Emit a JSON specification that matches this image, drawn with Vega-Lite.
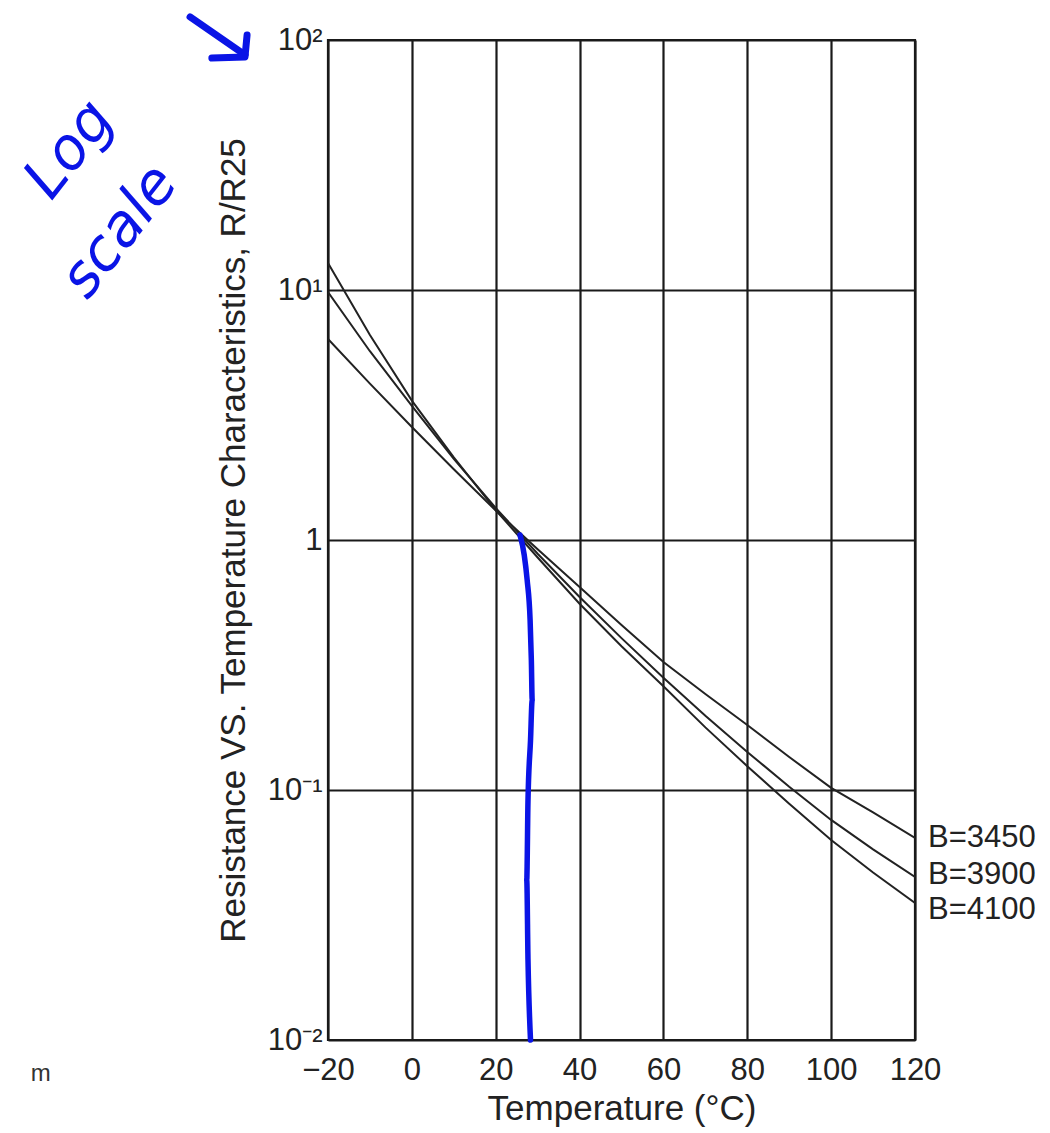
{
  "$schema": "https://vega.github.io/schema/vega-lite/v6.json",
  "width": 587,
  "height": 1000,
  "autosize": {"type": "none"},
  "padding": {"left": 328, "top": 40, "right": 135, "bottom": 93},
  "background": "white",
  "config": {
    "font": "Liberation Sans",
    "view": {"stroke": "#1a1a1a", "strokeWidth": 2.2},
    "axis": {
      "grid": true,
      "gridColor": "#1a1a1a",
      "gridWidth": 2.2,
      "gridOpacity": 1,
      "domain": false,
      "ticks": false,
      "tickSize": 0,
      "labelFlush": false,
      "labelOverlap": false,
      "labelBound": false,
      "labelFont": "Liberation Sans",
      "labelFontSize": 31,
      "labelColor": "#222",
      "titleFont": "Liberation Sans",
      "titleFontSize": 35,
      "titleFontWeight": "normal",
      "titleColor": "#222"
    }
  },
  "datasets": {
    "curves": [
      {"t": -20, "r": 12.82, "B": "B=4100"},
      {"t": -10, "r": 6.61, "B": "B=4100"},
      {"t": 0, "r": 3.61, "B": "B=4100"},
      {"t": 10, "r": 2.14, "B": "B=4100"},
      {"t": 20, "r": 1.318, "B": "B=4100"},
      {"t": 30, "r": 0.851, "B": "B=4100"},
      {"t": 40, "r": 0.556, "B": "B=4100"},
      {"t": 50, "r": 0.376, "B": "B=4100"},
      {"t": 60, "r": 0.26, "B": "B=4100"},
      {"t": 70, "r": 0.178, "B": "B=4100"},
      {"t": 80, "r": 0.1245, "B": "B=4100"},
      {"t": 90, "r": 0.0881, "B": "B=4100"},
      {"t": 100, "r": 0.0631, "B": "B=4100"},
      {"t": 110, "r": 0.0468, "B": "B=4100"},
      {"t": 120, "r": 0.0353, "B": "B=4100"},
      {"t": -20, "r": 9.82, "B": "B=3900"},
      {"t": -10, "r": 5.69, "B": "B=3900"},
      {"t": 0, "r": 3.44, "B": "B=3900"},
      {"t": 10, "r": 2.11, "B": "B=3900"},
      {"t": 20, "r": 1.343, "B": "B=3900"},
      {"t": 30, "r": 0.881, "B": "B=3900"},
      {"t": 40, "r": 0.592, "B": "B=3900"},
      {"t": 50, "r": 0.405, "B": "B=3900"},
      {"t": 60, "r": 0.281, "B": "B=3900"},
      {"t": 70, "r": 0.198, "B": "B=3900"},
      {"t": 80, "r": 0.142, "B": "B=3900"},
      {"t": 90, "r": 0.103, "B": "B=3900"},
      {"t": 100, "r": 0.0759, "B": "B=3900"},
      {"t": 110, "r": 0.0579, "B": "B=3900"},
      {"t": 120, "r": 0.0449, "B": "B=3900"},
      {"t": -20, "r": 6.37, "B": "B=3450"},
      {"t": -10, "r": 4.22, "B": "B=3450"},
      {"t": 0, "r": 2.83, "B": "B=3450"},
      {"t": 10, "r": 1.92, "B": "B=3450"},
      {"t": 20, "r": 1.312, "B": "B=3450"},
      {"t": 30, "r": 0.918, "B": "B=3450"},
      {"t": 40, "r": 0.649, "B": "B=3450"},
      {"t": 50, "r": 0.457, "B": "B=3450"},
      {"t": 60, "r": 0.325, "B": "B=3450"},
      {"t": 70, "r": 0.242, "B": "B=3450"},
      {"t": 80, "r": 0.182, "B": "B=3450"},
      {"t": 90, "r": 0.1355, "B": "B=3450"},
      {"t": 100, "r": 0.102, "B": "B=3450"},
      {"t": 110, "r": 0.0813, "B": "B=3450"},
      {"t": 120, "r": 0.0643, "B": "B=3450"}
    ],
    "blue": [
      {"i": 0, "t": 25.8, "r": 1.047},
      {"i": 1, "t": 26.8, "r": 0.871},
      {"i": 2, "t": 27.5, "r": 0.692},
      {"i": 3, "t": 28.2, "r": 0.479},
      {"i": 4, "t": 28.5, "r": 0.331},
      {"i": 5, "t": 28.7, "r": 0.229},
      {"i": 6, "t": 28.3, "r": 0.158},
      {"i": 7, "t": 27.7, "r": 0.0912},
      {"i": 8, "t": 27.4, "r": 0.0437},
      {"i": 9, "t": 27.7, "r": 0.0209},
      {"i": 10, "t": 28.3, "r": 0.01}
    ],
    "labels": [
      {"t": 120, "r": 0.0643, "label": "B=3450"},
      {"t": 120, "r": 0.0457, "label": "B=3900"},
      {"t": 120, "r": 0.0331, "label": "B=4100"}
    ],
    "arrow": [
      {"seg": "shaft", "i": 0, "t": -52.9, "r": 123.6},
      {"seg": "shaft", "i": 1, "t": -39.8, "r": 87.1},
      {"seg": "head", "i": 0, "t": -47.7, "r": 84.7},
      {"seg": "head", "i": 1, "t": -39.8, "r": 85.5},
      {"seg": "head", "i": 2, "t": -39.3, "r": 104.7}
    ],
    "notes": [
      {"t": -81.5, "r": 36.3, "text": "Log"},
      {"t": -69.6, "r": 17.1, "text": "scale"}
    ],
    "stray": [
      {"t": -88.5, "r": 0.0073, "text": "m"}
    ]
  },
  "layer": [
    {
      "data": {"name": "curves"},
      "mark": {"type": "line", "stroke": "#222", "strokeWidth": 2, "clip": true},
      "encoding": {
        "x": {
          "field": "t",
          "type": "quantitative",
          "scale": {"domain": [-20, 120], "nice": false, "zero": false},
          "axis": {
            "values": [-20, 0, 20, 40, 60, 80, 100, 120],
            "labelPadding": 15,
            "title": "Temperature (°C)",
            "titlePadding": 6
          }
        },
        "y": {
          "field": "r",
          "type": "quantitative",
          "scale": {"type": "log", "domain": [0.01, 100], "nice": false},
          "axis": {
            "values": [0.01, 0.1, 1, 10, 100],
            "labelExpr": "datum.value >= 50 ? '10²' : datum.value >= 5 ? '10¹' : datum.value >= 0.5 ? '1' : datum.value >= 0.05 ? '10⁻¹' : '10⁻²'",
            "labelPadding": 6,
            "labelBaseline": "middle",
            "title": "Resistance VS. Temperature Characteristics, R/R25",
            "titlePadding": 16
          }
        },
        "detail": {"field": "B"}
      }
    },
    {
      "data": {"name": "blue"},
      "mark": {"type": "line", "stroke": "#0a14e6", "strokeWidth": 5.5, "strokeCap": "round", "strokeJoin": "round", "interpolate": "monotone"},
      "encoding": {
        "x": {"field": "t", "type": "quantitative"},
        "y": {"field": "r", "type": "quantitative"},
        "order": {"field": "i"}
      }
    },
    {
      "data": {"name": "labels"},
      "mark": {"type": "text", "align": "left", "baseline": "middle", "dx": 13, "fontSize": 31, "color": "#222", "font": "Liberation Sans"},
      "encoding": {
        "x": {"field": "t", "type": "quantitative"},
        "y": {"field": "r", "type": "quantitative"},
        "text": {"field": "label"}
      }
    },
    {
      "data": {"name": "arrow"},
      "mark": {"type": "line", "stroke": "#0a14e6", "strokeWidth": 7, "strokeCap": "round", "strokeJoin": "round"},
      "encoding": {
        "x": {"field": "t", "type": "quantitative"},
        "y": {"field": "r", "type": "quantitative"},
        "detail": {"field": "seg"},
        "order": {"field": "i"}
      }
    },
    {
      "data": {"name": "notes"},
      "mark": {"type": "text", "align": "center", "baseline": "middle", "angle": -52, "fontSize": 58, "fontStyle": "italic", "color": "#0a14e6", "font": "DejaVu Sans"},
      "encoding": {
        "x": {"field": "t", "type": "quantitative"},
        "y": {"field": "r", "type": "quantitative"},
        "text": {"field": "text"}
      }
    },
    {
      "data": {"name": "stray"},
      "mark": {"type": "text", "align": "center", "baseline": "middle", "fontSize": 24, "color": "#333", "font": "Liberation Sans"},
      "encoding": {
        "x": {"field": "t", "type": "quantitative"},
        "y": {"field": "r", "type": "quantitative"},
        "text": {"field": "text"}
      }
    }
  ]
}
